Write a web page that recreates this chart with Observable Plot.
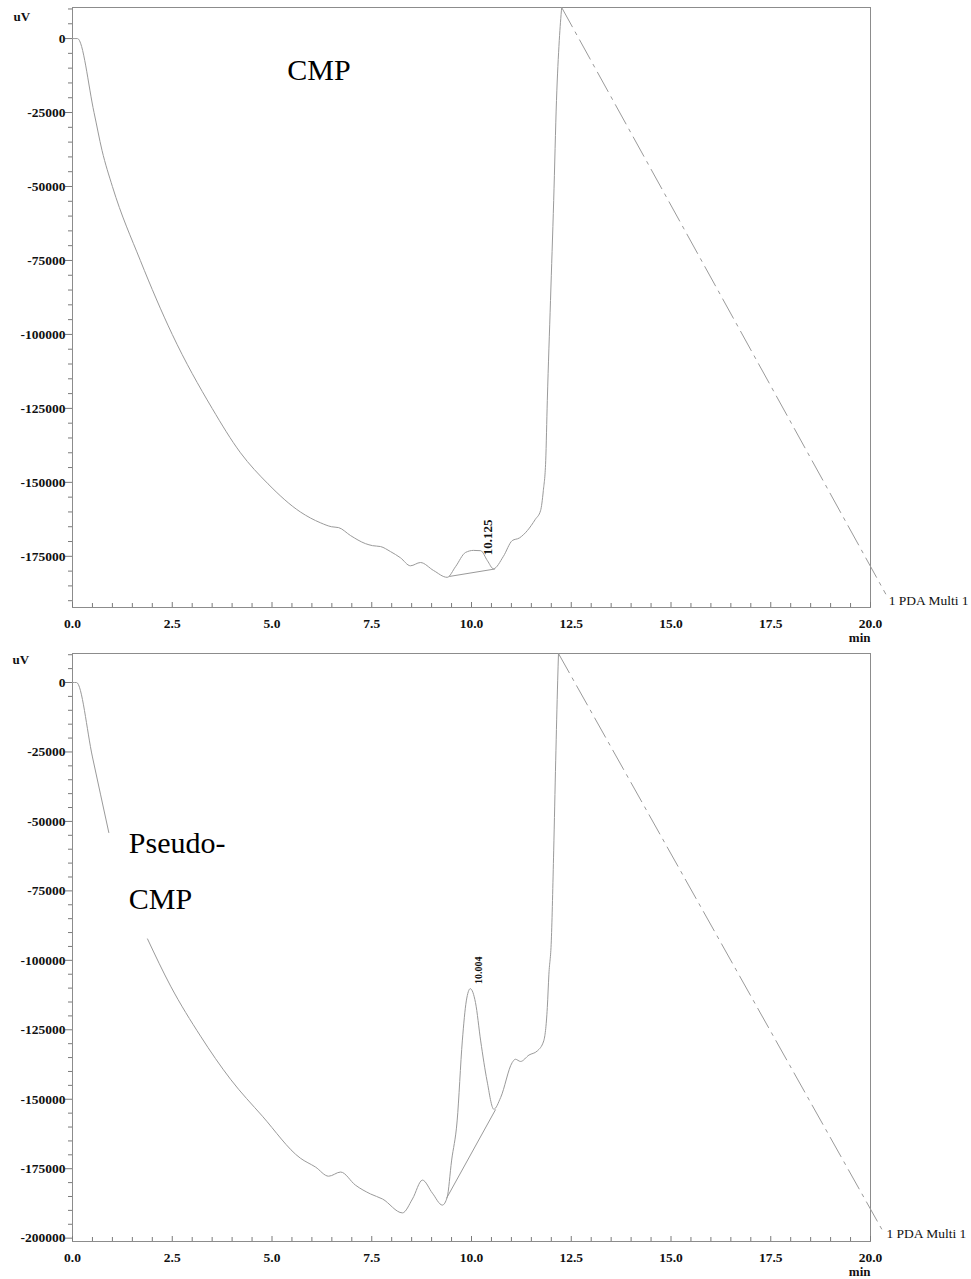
<!DOCTYPE html>
<html><head><meta charset="utf-8">
<script src="https://cdn.jsdelivr.net/npm/d3@7"></script>
<script src="https://cdn.jsdelivr.net/npm/@observablehq/plot@0.6"></script>
<style>body{margin:0;background:#fff;} #c svg{display:block;overflow:visible;}</style>
</head><body><div id="c"></div><script>
// ---- tick labels ----
const xMajor = [0, 2.5, 5, 7.5, 10, 12.5, 15, 17.5, 20];
const cmpYMajor = [0, -25000, -50000, -75000, -100000, -125000, -150000, -175000];
const pseudoYMajor = [0, -25000, -50000, -75000, -100000, -125000, -150000, -175000, -200000];

// ---- CMP chromatogram (min, uV) ----
const cmpTime = [0, 0.125, 0.54, 0.74, 1.0, 1.7, 2.5, 3.5, 4.21, 4.9, 5.71, 6.22, 6.49, 6.67, 6.97, 7.34, 7.52, 7.72, 7.97, 8.22, 8.47, 8.72, 9.05, 9.39, 9.6, 9.85, 10.05, 10.23, 10.4, 10.55, 10.8, 11.02, 11.2, 11.4, 11.6, 11.73, 11.8, 11.86, 11.9, 11.98, 12.06, 12.13, 12.2, 12.26];
const cmpSignal = [0, 0, -25000, -37800, -50000, -75000, -100000, -125000, -140000, -150500, -160000, -163700, -165000, -165300, -168000, -170700, -171400, -171700, -173400, -175500, -178200, -177100, -179800, -182100, -178500, -173700, -173000, -173100, -176500, -179200, -175000, -169700, -168800, -166300, -162500, -159600, -152800, -142700, -122400, -88500, -54700, -20900, -600, 10500];
const cmpBaseTime = [9.45, 10.58];
const cmpBaseSignal = [-181800, -179300];
const cmpDashTime = [12.26, 20.38];
const cmpDashSignal = [10500, -187700];
const cmpPeakTime = [10.125];
const cmpPeakSignal = [-174000];
const cmpPeakLabel = ["10.125"];

// ---- Pseudo-CMP chromatogram (min, uV); null = trace hidden behind the label ----
const pseudoTime = [0, 0.1, 0.5, 0.91, 1.4, 1.88, 2.46, 3.21, 3.96, 4.76, 5.71, 6.09, 6.42, 6.72, 7.09, 7.47, 7.77, 8.27, 8.52, 8.77, 9.02, 9.27, 9.39, 9.5, 9.64, 9.77, 9.87, 9.97, 10.1, 10.23, 10.39, 10.56, 10.73, 11.02, 11.1, 11.23, 11.44, 11.65, 11.81, 11.9, 11.94, 12.0, 12.06, 12.11, 12.16, 12.18];
const pseudoSignal = [0, 0, -26800, -54000, null, -92300, -109300, -127300, -142800, -156100, -171200, -174400, -177700, -176200, -180900, -184100, -185900, -190900, -185900, -179100, -183800, -188100, -185300, -172200, -157800, -129000, -114600, -110200, -115200, -129000, -143400, -153600, -149400, -136800, -135600, -136400, -134100, -132600, -129000, -117000, -105000, -93000, -60600, -28200, 600, 10440];
const pseudoBaseTime = [9.38, 10.6];
const pseudoBaseSignal = [-185500, -153800];
const pseudoDashTime = [12.18, 20.35];
const pseudoDashSignal = [10440, -198500];
const pseudoPeakTime = [10.004];
const pseudoPeakSignal = [-110200];
const pseudoPeakLabel = ["10.004"];

const legendLabel = "1 PDA Multi 1";

const zip = (t, v) => t.map((d, i) => ({t: d, v: v[i] == null ? NaN : v[i]}));
const xMinor = d3.range(0.5, 20, 0.5).filter(t => t % 2.5 !== 0);
const minorY = (dom, major) => d3.range(Math.ceil(dom[0] / 5000) * 5000, dom[1] + 1, 5000).filter(v => !major.includes(v));

const SERIF = "'Liberation Serif', 'Times New Roman', serif";
const GREY = "#9a9a9a";
const AXIS = "#7a7a7a";

function chart(o) {
  const plotH = o.height - o.marginTop - o.marginBottom;
  const curve = zip(o.time, o.signal);
  const base = zip(o.baseT, o.baseV);
  const dash = zip(o.dashT, o.dashV);
  const peaks = o.peakT.map((t, i) => ({t, v: o.peakV[i], label: o.peakL[i]}));
  return Plot.plot({
    width: 971, height: o.height,
    marginLeft: 72, marginRight: 101, marginTop: o.marginTop, marginBottom: o.marginBottom,
    x: {domain: [0, 20], label: null},
    y: {domain: o.yDomain, label: null},
    style: {fontFamily: SERIF, fontSize: "13.5px", fontWeight: "bold", color: "#111", background: "white", overflow: "visible"},
    marks: [
      Plot.frame({stroke: "#8c8c8c"}),
      Plot.axisY({ticks: minorY(o.yDomain, o.yMajor), tickSize: 4, tickFormat: () => "", stroke: AXIS, label: null}),
      Plot.axisY({ticks: o.yMajor, tickSize: 7, tickPadding: 0, tickFormat: d => String(d), stroke: AXIS, label: null}),
      Plot.tickX(xMinor, {x: d => d, insetTop: plotH - 4, stroke: AXIS}),
      Plot.tickX(xMajor, {x: d => d, insetTop: plotH - 5, stroke: AXIS}),
      Plot.axisX({ticks: xMajor, tickSize: 0, tickPadding: 11, tickFormat: d3.format(".1f"), label: null}),
      Plot.line(curve, {x: "t", y: "v", stroke: GREY, strokeWidth: 1, curve: "monotone-x", clip: true}),
      Plot.line(base, {x: "t", y: "v", stroke: GREY, strokeWidth: 1}),
      Plot.line(dash, {x: "t", y: "v", stroke: GREY, strokeWidth: 1, strokeDasharray: "22,6,3,6"}),
      Plot.text(peaks, {x: "t", y: "v", text: "label", rotate: -90, textAnchor: "start", lineAnchor: "middle", dx: o.peakDx, dy: o.peakDy, fontSize: o.peakFont, fontWeight: "bold", fill: "#111"}),
      Plot.text(["uV"], {text: d => d, frameAnchor: "top-left", dx: o.uvDx, dy: o.uvDy, textAnchor: "start", lineAnchor: "bottom", fontSize: 13, fontWeight: "bold"}),
      Plot.text(["min"], {text: d => d, frameAnchor: "bottom-right", dy: 34, textAnchor: "end", lineAnchor: "bottom", fontSize: 13, fontWeight: "bold"}),
      Plot.text([dash[dash.length - 1]], {x: "t", y: "v", text: () => legendLabel, textAnchor: "start", lineAnchor: "bottom", dx: o.legDx, dy: o.legDy, fontSize: 13.5, fontWeight: "normal", fill: "#111"}),
      Plot.text([o.title], {text: d => d, frameAnchor: "top-left", dx: o.titleDx, dy: o.titleDy, textAnchor: "start", lineAnchor: "bottom", lineHeight: 1.867, fontSize: 30, fontWeight: "normal", fill: "#000"})
    ]
  });
}

const cmpChart = chart({
  time: cmpTime, signal: cmpSignal, baseT: cmpBaseTime, baseV: cmpBaseSignal,
  dashT: cmpDashTime, dashV: cmpDashSignal,
  peakT: cmpPeakTime, peakV: cmpPeakSignal, peakL: cmpPeakLabel, peakDx: 11, peakDy: 2, peakFont: 13,
  yDomain: [-192300, 10500], yMajor: cmpYMajor,
  height: 645, marginTop: 7, marginBottom: 38,
  uvDx: -59, uvDy: 13, legDx: 3, legDy: 11,
  title: "CMP", titleDx: 214.7, titleDy: 72.3
});
const pseudoChart = chart({
  time: pseudoTime, signal: pseudoSignal, baseT: pseudoBaseTime, baseV: pseudoBaseSignal,
  dashT: pseudoDashTime, dashV: pseudoDashSignal,
  peakT: pseudoPeakTime, peakV: pseudoPeakSignal, peakL: pseudoPeakLabel, peakDx: 7.3, peakDy: -4.7, peakFont: 10,
  yDomain: [-201200, 10440], yMajor: pseudoYMajor,
  height: 634, marginTop: 8, marginBottom: 38,
  uvDx: -60, uvDy: 10, legDx: 2, legDy: 4.5,
  title: "Pseudo-\nCMP", titleDx: 56.3, titleDy: 255
});
document.getElementById("c").append(cmpChart, pseudoChart);
</script></body></html>
